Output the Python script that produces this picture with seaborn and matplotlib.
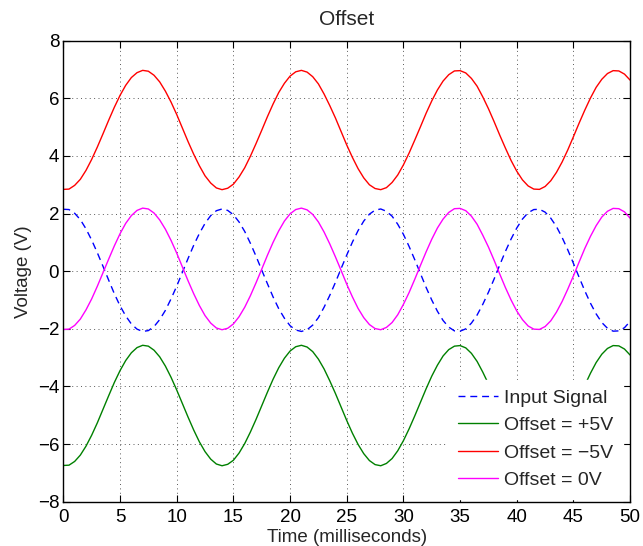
import numpy as np
import pandas as pd
import matplotlib
matplotlib.use("Agg")
import matplotlib.pyplot as plt
import seaborn as sns

# time axis, sampled every 0.5 ms
time_ms = np.arange(0, 50.01, 0.5)

input_signal = [
    2.15, 2.14, 2.01, 1.79, 1.47, 1.08, 0.64, 0.17, -0.31, -0.78,
    -1.20, -1.55, -1.83, -2.01, -2.09, -2.06, -1.92, -1.68, -1.36, -0.96,
    -0.52, -0.04, 0.44, 0.90, 1.31, 1.66, 1.93, 2.10, 2.16, 2.11,
    1.96, 1.71, 1.38, 0.97, 0.52, 0.04, -0.43, -0.89, -1.30, -1.63,
    -1.89, -2.04, -2.09, -2.03, -1.87, -1.61, -1.25, -0.84, -0.39, 0.09,
    0.56, 1.01, 1.41, 1.74, 1.98, 2.12, 2.16, 2.08, 1.91, 1.63,
    1.28, 0.86, 0.40, -0.08, -0.56, -1.00, -1.39, -1.71, -1.94, -2.07,
    -2.08, -2.00, -1.80, -1.52, -1.15, -0.73, -0.27, 0.22, 0.69, 1.12,
    1.50, 1.81, 2.03, 2.14, 2.15, 2.05, 1.84, 1.55, 1.17, 0.74,
    0.27, -0.21, -0.68, -1.11, -1.48, -1.78, -1.98, -2.08, -2.07, -1.96,
    -1.74,
]

offset_plus5 = [
    -6.74, -6.73, -6.60, -6.38, -6.07, -5.69, -5.26, -4.79, -4.32, -3.86,
    -3.45, -3.10, -2.83, -2.65, -2.57, -2.60, -2.74, -2.97, -3.29, -3.68,
    -4.12, -4.59, -5.06, -5.51, -5.92, -6.26, -6.52, -6.69, -6.75, -6.70,
    -6.56, -6.31, -5.98, -5.58, -5.14, -4.67, -4.20, -3.75, -3.35, -3.02,
    -2.77, -2.62, -2.57, -2.63, -2.79, -3.05, -3.39, -3.80, -4.24, -4.71,
    -5.18, -5.62, -6.01, -6.33, -6.57, -6.71, -6.75, -6.67, -6.50, -6.23,
    -5.88, -5.47, -5.02, -4.55, -4.08, -3.64, -3.26, -2.94, -2.72, -2.60,
    -2.58, -2.66, -2.85, -3.13, -3.50, -3.91, -4.36, -4.84, -5.30, -5.73,
    -6.10, -6.41, -6.62, -6.73, -6.74, -6.64, -6.44, -6.15, -5.78, -5.35,
    -4.89, -4.42, -3.96, -3.54, -3.17, -2.88, -2.68, -2.58, -2.59, -2.70,
    -2.91,
]

offset_minus5 = [
    2.84, 2.85, 2.98, 3.19, 3.50, 3.88, 4.31, 4.77, 5.24, 5.69,
    6.10, 6.45, 6.72, 6.89, 6.97, 6.94, 6.80, 6.57, 6.25, 5.87,
    5.44, 4.97, 4.50, 4.06, 3.66, 3.31, 3.06, 2.89, 2.83, 2.88,
    3.02, 3.27, 3.59, 3.99, 4.43, 4.89, 5.36, 5.80, 6.20, 6.52,
    6.77, 6.92, 6.97, 6.91, 6.75, 6.50, 6.15, 5.75, 5.32, 4.85,
    4.38, 3.95, 3.56, 3.24, 3.00, 2.87, 2.83, 2.90, 3.08, 3.34,
    3.69, 4.10, 4.55, 5.01, 5.48, 5.91, 6.29, 6.60, 6.82, 6.95,
    6.96, 6.88, 6.69, 6.42, 6.05, 5.64, 5.19, 4.72, 4.27, 3.84,
    3.47, 3.17, 2.96, 2.85, 2.84, 2.94, 3.14, 3.43, 3.79, 4.21,
    4.67, 5.14, 5.59, 6.01, 6.38, 6.66, 6.86, 6.96, 6.95, 6.84,
    6.63,
]

offset_0 = [
    -2.02, -2.01, -1.88, -1.66, -1.34, -0.96, -0.52, -0.05, 0.42, 0.88,
    1.30, 1.66, 1.93, 2.11, 2.19, 2.16, 2.02, 1.78, 1.46, 1.07,
    0.63, 0.15, -0.33, -0.78, -1.19, -1.54, -1.80, -1.97, -2.03, -1.98,
    -1.83, -1.58, -1.25, -0.85, -0.40, 0.07, 0.55, 1.00, 1.40, 1.74,
    1.99, 2.14, 2.19, 2.13, 1.97, 1.71, 1.36, 0.95, 0.50, 0.03,
    -0.45, -0.89, -1.29, -1.61, -1.85, -1.99, -2.03, -1.95, -1.78, -1.51,
    -1.15, -0.74, -0.28, 0.20, 0.67, 1.11, 1.50, 1.81, 2.04, 2.17,
    2.18, 2.10, 1.91, 1.63, 1.25, 0.84, 0.38, -0.10, -0.57, -1.00,
    -1.38, -1.68, -1.90, -2.01, -2.02, -1.92, -1.72, -1.42, -1.05, -0.62,
    -0.16, 0.32, 0.79, 1.21, 1.58, 1.88, 2.08, 2.18, 2.17, 2.06,
    1.84,
]

x_ticks = list(range(0, 51, 5))
y_ticks = list(range(-8, 9, 2))

series = [
    ("Input Signal", input_signal, "#0000ff", (5, 3.5)),
    ("Offset = +5V", offset_plus5, "#008000", None),
    ("Offset = \u22125V", offset_minus5, "#ff0000", None),
    ("Offset = 0V", offset_0, "#ff00ff", None),
]

sns.set_style("ticks")
plt.rcParams["font.family"] = ["Liberation Sans", "DejaVu Sans"]

fig = plt.figure(figsize=(6.43, 5.46), dpi=100)
ax = fig.add_axes([0.0985, 0.081, 0.8815, 0.8445])

for label, values, color, dash in series:
    df = pd.DataFrame({"time": time_ms, "voltage": values})
    sns.lineplot(data=df, x="time", y="voltage", ax=ax, color=color,
                 linewidth=1.0, label=label, estimator=None)
    if dash is not None:
        ax.lines[-1].set_dashes(dash)

ax.set_xlim(0, 50)
ax.set_ylim(-8, 8)
ax.set_xticks(x_ticks)
ax.set_yticks(y_ticks)
ax.tick_params(direction="in", top=True, right=True, length=5,
               width=0.8, labelsize=13.5, colors="black")
ax.tick_params(axis="x", pad=5.5)
ax.tick_params(axis="y", pad=3)
for s in ax.spines.values():
    s.set_visible(True)
    s.set_linewidth(1.0)
    s.set_color("black")

ax.grid(True, color="0.35", linestyle=(0, (1, 3.5)), linewidth=0.7)

ax.set_title("Offset", fontsize=15, pad=11)
ax.set_xlabel("Time (milliseconds)", fontsize=13.5, labelpad=2)
ax.set_ylabel("Voltage (V)", fontsize=13.5, labelpad=4)

# white legend box that hides the lines behind it
leg = ax.legend(loc="upper left", bbox_to_anchor=(0.679, 0.265),
                borderaxespad=0, fontsize=14, frameon=True, fancybox=False,
                framealpha=1, facecolor="white", edgecolor="white",
                handlelength=2.05, handletextpad=0.3, labelspacing=0.5,
                borderpad=0.5)

plt.savefig("out.png", dpi=100)
plt.close()
